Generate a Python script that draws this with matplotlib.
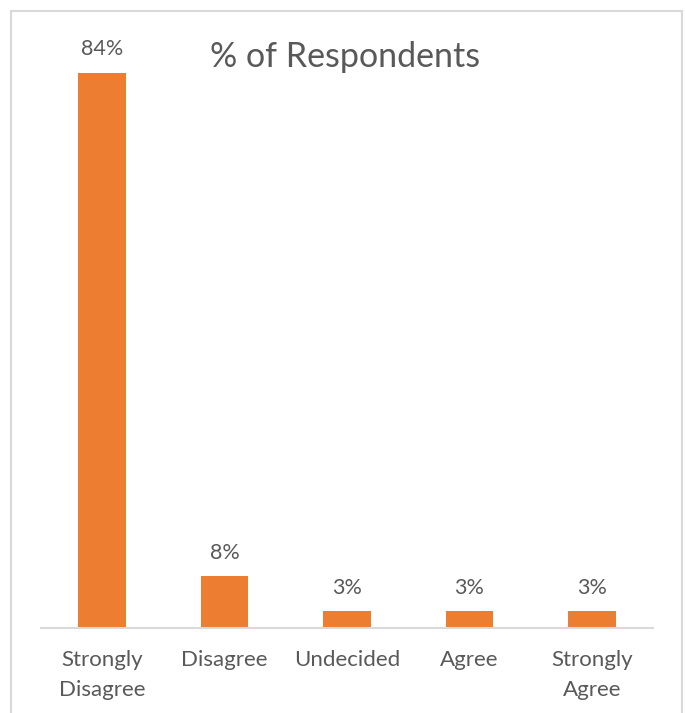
import matplotlib.pyplot as plt
from matplotlib.patches import Rectangle

categories = ["Strongly\nDisagree", "Disagree", "Undecided", "Agree", "Strongly\nAgree"]
values = [84.0, 7.8, 2.5, 2.5, 2.5]
value_labels = ["84%", "8%", "3%", "3%", "3%"]

bar_color = "#ED7D31"
text_color = "#595959"
line_color = "#D9D9D9"

plt.rcParams["font.family"] = ["Lato", "DejaVu Sans"]

fig = plt.figure(figsize=(6.85, 7.13), dpi=100)
ax = fig.add_axes([41 / 685, 1 - 627.5 / 713, 612 / 685, 594.5 / 713])

x = range(len(categories))
bars = ax.bar(x, values, width=0.39, color=bar_color, zorder=2)

for bar, lab in zip(bars, value_labels):
    ax.annotate(lab, (bar.get_x() + bar.get_width() / 2, bar.get_height()),
                xytext=(0, 9.5), textcoords="offset points",
                ha="center", va="bottom", fontsize=15.5, color=text_color)

ax.set_xlim(-0.5, len(categories) - 0.5)
ax.set_ylim(0, 90)
ax.set_xticks(list(x))
ax.set_xticklabels(categories, fontsize=16, color=text_color, linespacing=1.6)
ax.tick_params(axis="x", length=0, pad=16.5)
ax.set_yticks([])
for side in ["left", "right", "top"]:
    ax.spines[side].set_visible(False)
ax.spines["bottom"].set_color(line_color)
ax.spines["bottom"].set_linewidth(1.5)

fig.text(345 / 685, 1 - 57 / 713, "% of Respondents", ha="center", va="center",
         fontsize=24.5, color=text_color)

# chart area border (bottom edge runs off the image)
fig.patches.append(Rectangle((11 / 685, -0.05), 671 / 685, 1.05 - 11 / 713,
                             transform=fig.transFigure, fill=False,
                             edgecolor=line_color, linewidth=1.5))

fig.savefig("out.png", dpi=100)
